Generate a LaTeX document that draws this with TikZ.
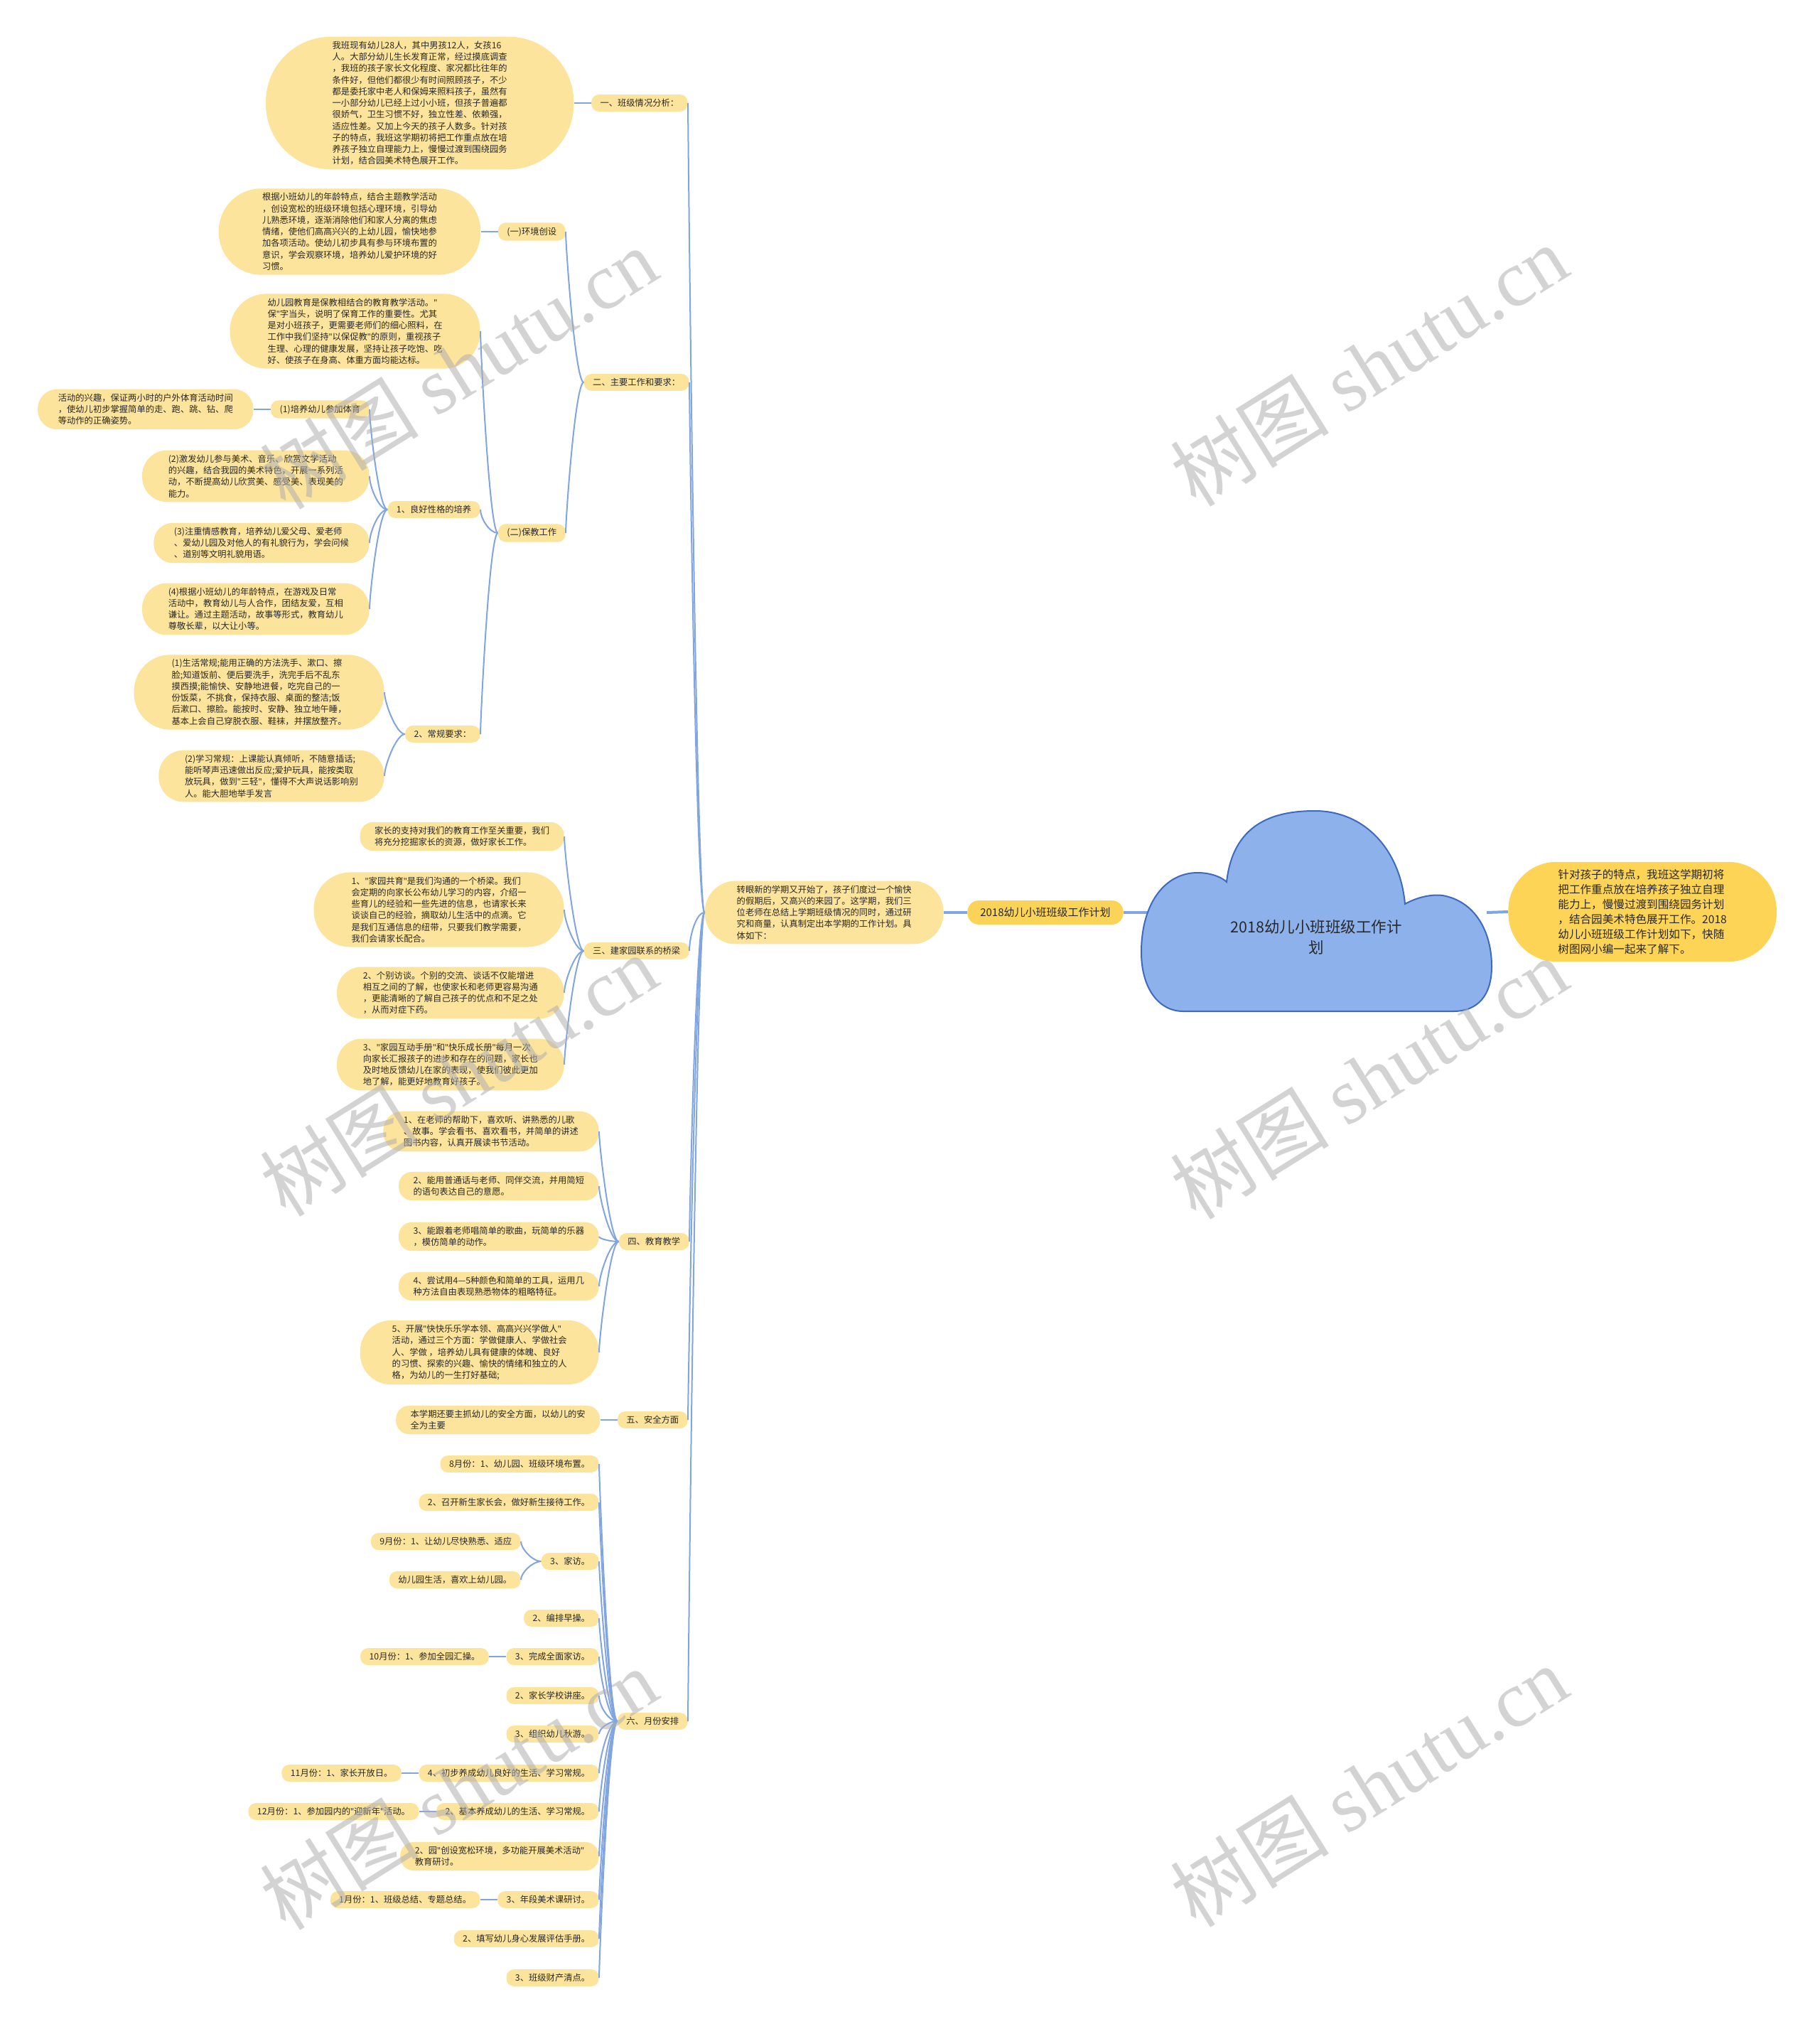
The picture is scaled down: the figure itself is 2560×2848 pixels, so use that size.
\documentclass[tikz,border=0pt]{standalone}
\usepackage{fontspec}
\setmainfont{Noto Sans CJK SC}
\newfontfamily\wmserif{Liberation Serif}
\newfontfamily\latinf{Noto Sans}
\newcommand\dq{{\latinf"}}
\usetikzlibrary{positioning}
\definecolor{leafc}{RGB}{253,228,156}
\definecolor{topc}{RGB}{250,211,88}
\definecolor{rnodec}{RGB}{253,212,86}
\definecolor{linec}{RGB}{128,165,224}
\definecolor{cloudf}{RGB}{141,178,235}
\definecolor{clouds}{RGB}{62,106,190}
\definecolor{txtc}{RGB}{40,40,40}
\definecolor{wmc}{RGB}{175,175,175}
\newcommand\fsA{\fontsize{6.15pt}{8.125pt}\selectfont}
\newcommand\fsB{\fontsize{7.5pt}{9pt}\selectfont}
\newcommand\fsC{\fontsize{7.8pt}{10.5pt}\selectfont}
\newcommand\fsD{\fontsize{10.75pt}{14.5pt}\selectfont}
\newcommand\fsW{\fontsize{56pt}{60pt}\selectfont}
\newcommand\cu[3][20]{\draw[conn] (#2.west) .. controls +(-12,0) and +(0,#1) .. (#3.east);}
\newcommand\cd[3][20]{\draw[conn] (#2.west) .. controls +(-12,0) and +(0,-#1) .. (#3.east);}
\newcommand\cs[2]{\draw[conn] (#1.west) -- (#2.east);}
\tikzset{
  nl/.code={\pgfmathsetmacro\myhr{((#1)-1)*4.0625+6.2}\pgfmathsetmacro\myhrr{\myhr-0.9}%
    \tikzset{rounded corners=\myhrr pt, inner xsep=\myhr pt}},
}
\begin{document}
\begin{tikzpicture}[x=0.5pt,y=-0.5pt,
  leaf/.style={rectangle, fill=leafc, text=txtc, inner ysep=3.1pt, font=\fsA, align=left, nl=1},
  topic/.style={rectangle, fill=topc, text=txtc, rounded corners=8pt, inner xsep=9pt, inner ysep=5pt, font=\fsB, align=left},
  rnode/.style={rectangle, fill=rnodec, text=txtc, rounded corners=34pt, inner xsep=35pt, inner ysep=5.2pt, font=\fsC, align=left},
  conn/.style={draw=linec, line width=1pt},
  rootline/.style={draw=linec, line width=2pt},
  wm/.style={font=\fsW, text=wmc, text opacity=0.55, rotate=32, inner sep=0pt},
  node distance=12pt]
\useasboundingbox (0,0) rectangle (2560,2848);
\fill[white] (0,0) rectangle (2560,2848);

% ---- right side ----
\node[rnode, anchor=west] (rnode) at (2122,1283) {针对孩子的特点，我班这学期初将\\把工作重点放在培养孩子独立自理\\能力上，慢慢过渡到围绕园务计划\\，结合园美术特色展开工作。2018\\幼儿小班班级工作计划如下，快随\\树图网小编一起来了解下。};
\node[topic, anchor=east] (main) at (1581,1284) {2018幼儿小班班级工作计划};
\node[leaf, nl=5, anchor=east] (intro) at (1328,1284) {转眼新的学期又开始了，孩子们度过一个愉快\\的假期后，又高兴的来园了。这学期，我们三\\位老师在总结上学期班级情况的同时，通过研\\究和商量，认真制定出本学期的工作计划。具\\体如下：};
\coordinate (cloudW) at (1622,1284);
\coordinate (cloudE) at (2092,1284);

% ---- 一 ----
\node[leaf, anchor=east] (h1) at (968,145) {一、班级情况分析：};
\node[leaf, nl=11, left=of h1] (t1) {我班现有幼儿28人，其中男孩12人，女孩16\\人。大部分幼儿生长发育正常，经过摸底调查\\，我班的孩子家长文化程度、家况都比往年的\\条件好，但他们都很少有时间照顾孩子，不少\\都是委托家中老人和保姆来照料孩子，虽然有\\一小部分幼儿已经上过小小班，但孩子普遍都\\很娇气，卫生习惯不好，独立性差、依赖强，\\适应性差。又加上今天的孩子人数多。针对孩\\子的特点，我班这学期初将把工作重点放在培\\养孩子独立自理能力上，慢慢过渡到围绕园务\\计划，结合园美术特色展开工作。};

% ---- 二 ----
\node[leaf, anchor=east] (h2) at (970,538) {二、主要工作和要求：};
\node[leaf, anchor=east] (env) at (796,326) {(一)环境创设};
\node[leaf, nl=7, left=of env] (envt) {根据小班幼儿的年龄特点，结合主题教学活动\\，创设宽松的班级环境包括心理环境，引导幼\\儿熟悉环境，逐渐消除他们和家人分离的焦虑\\情绪，使他们高高兴兴的上幼儿园，愉快地参\\加各项活动。使幼儿初步具有参与环境布置的\\意识，学会观察环境，培养幼儿爱护环境的好\\习惯。};
\node[leaf, anchor=east] (bj) at (796,750) {(二)保教工作};
\node[leaf, nl=6, anchor=east] (bj1) at (676,466) {幼儿园教育是保教相结合的教育教学活动。\dq\\保\dq{}字当头，说明了保育工作的重要性。尤其\\是对小班孩子，更需要老师们的细心照料，在\\工作中我们坚持\dq{}以保促教\dq{}的原则，重视孩子\\生理、心理的健康发展，坚持让孩子吃饱、吃\\好、使孩子在身高、体重方面均能达标。};
\node[leaf, anchor=east] (lx1) at (676,717) {1、良好性格的培养};
\node[leaf, anchor=east] (lx2) at (676,1033) {2、常规要求：};
\node[leaf, anchor=east] (p1) at (520,576) {(1)培养幼儿参加体育};
\node[leaf, nl=3, left=of p1] (p1t) {活动的兴趣，保证两小时的户外体育活动时间\\，使幼儿初步掌握简单的走、跑、跳、钻、爬\\等动作的正确姿势。};
\node[leaf, nl=4, anchor=east] (p2) at (520,670) {(2)激发幼儿参与美术、音乐、欣赏文学活动\\的兴趣，结合我园的美术特色，开展一系列活\\动，不断提高幼儿欣赏美、感受美、表现美的\\能力。};
\node[leaf, nl=3, anchor=east] (p3) at (520,764) {(3)注重情感教育，培养幼儿爱父母、爱老师\\、爱幼儿园及对他人的有礼貌行为，学会问候\\、道别等文明礼貌用语。};
\node[leaf, nl=4, anchor=east] (p4) at (520,857) {(4)根据小班幼儿的年龄特点，在游戏及日常\\活动中，教育幼儿与人合作，团结友爱，互相\\谦让。通过主题活动，故事等形式，教育幼儿\\尊敬长辈，以大让小等。};
\node[leaf, nl=6, anchor=east] (r1) at (541,974) {(1)生活常规;能用正确的方法洗手、漱口、擦\\脸;知道饭前、便后要洗手，洗完手后不乱东\\摸西摸;能愉快、安静地进餐，吃完自己的一\\份饭菜，不挑食，保持衣服、桌面的整洁;饭\\后漱口、擦脸。能按时、安静、独立地午睡，\\基本上会自己穿脱衣服、鞋袜，并摆放整齐。};
\node[leaf, nl=4, anchor=east] (r2) at (541,1092) {(2)学习常规：上课能认真倾听，不随意插话;\\能听琴声迅速做出反应;爱护玩具，能按类取\\放玩具，做到\dq{}三轻\dq{}，懂得不大声说话影响别\\人。能大胆地举手发言};

% ---- 三 ----
\node[leaf, anchor=east] (h3) at (970,1338) {三、建家园联系的桥梁};
\node[leaf, nl=2, anchor=east] (j0) at (794,1177) {家长的支持对我们的教育工作至关重要，我们\\将充分挖掘家长的资源，做好家长工作。};
\node[leaf, nl=6, anchor=east] (j1) at (794,1280) {1、\dq{}家园共育\dq{}是我们沟通的一个桥梁。我们\\会定期的向家长公布幼儿学习的内容，介绍一\\些育儿的经验和一些先进的信息，也请家长来\\谈谈自己的经验，摘取幼儿生活中的点滴。它\\是我们互通信息的纽带，只要我们教学需要，\\我们会请家长配合。};
\node[leaf, nl=4, anchor=east] (j2) at (794,1397) {2、个别访谈。个别的交流、谈话不仅能增进\\相互之间的了解，也使家长和老师更容易沟通\\，更能清晰的了解自己孩子的优点和不足之处\\，从而对症下药。};
\node[leaf, nl=4, anchor=east] (j3) at (794,1498) {3、\dq{}家园互动手册\dq{}和\dq{}快乐成长册\dq{}每月一次\\向家长汇报孩子的进步和存在的问题，家长也\\及时地反馈幼儿在家的表现，使我们彼此更加\\地了解，能更好地教育好孩子。};

% ---- 四 ----
\node[leaf, anchor=east] (h4) at (970,1747) {四、教育教学};
\node[leaf, nl=3, anchor=east] (e1) at (843,1592) {1、在老师的帮助下，喜欢听、讲熟悉的儿歌\\、故事。学会看书、喜欢看书，并简单的讲述\\图书内容，认真开展读书节活动。};
\node[leaf, nl=2, anchor=east] (e2) at (843,1669) {2、能用普通话与老师、同伴交流，并用简短\\的语句表达自己的意愿。};
\node[leaf, nl=2, anchor=east] (e3) at (843,1740) {3、能跟着老师唱简单的歌曲，玩简单的乐器\\，模仿简单的动作。};
\node[leaf, nl=2, anchor=east] (e4) at (843,1810) {4、尝试用4—5种颜色和简单的工具，运用几\\种方法自由表现熟悉物体的粗略特征。};
\node[leaf, nl=5, anchor=east] (e5) at (843,1903) {5、开展\dq{}快快乐乐学本领、高高兴兴学做人\dq\\活动，通过三个方面：学做健康人、学做社会\\人、学做 ，培养幼儿具有健康的体魄、良好\\的习惯、探索的兴趣、愉快的情绪和独立的人\\格，为幼儿的一生打好基础;};

% ---- 五 ----
\node[leaf, anchor=east] (h5) at (968,1998) {五、安全方面};
\node[leaf, nl=2, left=of h5] (s1) {本学期还要主抓幼儿的安全方面，以幼儿的安\\全为主要};

% ---- 六 ----
\node[leaf, anchor=east] (h6) at (968,2422) {六、月份安排};
\node[leaf, anchor=east] (m1) at (843,2060) {8月份：1、幼儿园、班级环境布置。};
\node[leaf, anchor=east] (m2) at (843,2114) {2、召开新生家长会，做好新生接待工作。};
\node[leaf, anchor=east] (m3) at (843,2197) {3、家访。};
\node[leaf, anchor=east] (m3a) at (733,2169) {9月份：1、让幼儿尽快熟悉、适应};
\node[leaf, anchor=east] (m3b) at (733,2223) {幼儿园生活，喜欢上幼儿园。};
\node[leaf, anchor=east] (m4) at (843,2277) {2、编排早操。};
\node[leaf, anchor=east] (m5) at (843,2331) {3、完成全面家访。};
\node[leaf, left=of m5] (m5a) {10月份：1、参加全园汇操。};
\node[leaf, anchor=east] (m6) at (843,2386) {2、家长学校讲座。};
\node[leaf, anchor=east] (m7) at (843,2440) {3、组织幼儿秋游。};
\node[leaf, anchor=east] (m8) at (843,2495) {4、初步养成幼儿良好的生活、学习常规。};
\node[leaf, left=of m8] (m8a) {11月份：1、家长开放日。};
\node[leaf, anchor=east] (m9) at (843,2549) {2、基本养成幼儿的生活、学习常规。};
\node[leaf, left=of m9] (m9a) {12月份：1、参加园内的\dq{}迎新年\dq{}活动。};
\node[leaf, nl=2, anchor=east] (m10) at (843,2612) {2、园\dq{}创设宽松环境，多功能开展美术活动\dq\\教育研讨。};
\node[leaf, anchor=east] (m11) at (843,2673) {3、年段美术课研讨。};
\node[leaf, left=of m11] (m11a) {1月份：1、班级总结、专题总结。};
\node[leaf, anchor=east] (m12) at (843,2728) {2、填写幼儿身心发展评估手册。};
\node[leaf, anchor=east] (m13) at (843,2783) {3、班级财产清点。};

% ---- connectors ----
\draw[rootline] (cloudE) -- (rnode.west);
\draw[rootline] (cloudW) -- (main.east);
\draw[rootline] (main.west) -- (intro.east);
\cu[25]{intro}{h1}
\cu[25]{intro}{h2}
\cd[20]{intro}{h3}
\cd[25]{intro}{h4}
\cd[25]{intro}{h5}
\cd[25]{intro}{h6}
\cs{h1}{t1}
\cu[20]{h2}{env}
\cd[20]{h2}{bj}
\cs{env}{envt}
\cu[20]{bj}{bj1}
\cu[12]{bj}{lx1}
\cd[20]{bj}{lx2}
\cu[20]{lx1}{p1}
\cu[15]{lx1}{p2}
\cd[15]{lx1}{p3}
\cd[20]{lx1}{p4}
\cs{p1}{p1t}
\cu[15]{lx2}{r1}
\cd[15]{lx2}{r2}
\cu[20]{h3}{j0}
\cu[15]{h3}{j1}
\cd[15]{h3}{j2}
\cd[20]{h3}{j3}
\cu[20]{h4}{e1}
\cu[15]{h4}{e2}
\cu[3]{h4}{e3}
\cd[15]{h4}{e4}
\cd[20]{h4}{e5}
\cs{h5}{s1}
\cu[20]{h6}{m1}
\cu[20]{h6}{m2}
\cu[20]{h6}{m3}
\cu[20]{h6}{m4}
\cu[20]{h6}{m5}
\cu[15]{h6}{m6}
\cd[8]{h6}{m7}
\cd[20]{h6}{m8}
\cd[20]{h6}{m9}
\cd[20]{h6}{m10}
\cd[20]{h6}{m11}
\cd[20]{h6}{m12}
\cd[20]{h6}{m13}
\cu[10]{m3}{m3a}
\cd[10]{m3}{m3b}
\cs{m5}{m5a}
\cs{m8}{m8a}
\cs{m9}{m9a}
\cs{m11}{m11a}

% ---- cloud ----
\draw[fill=cloudf, draw=clouds, line width=1pt]
  (1726,1241) .. controls (1735,1160) and (1790,1141) .. (1850,1141)
  .. controls (1920,1141) and (1970,1195) .. (1977,1272)
  .. controls (1995,1262) and (2015,1258) .. (2030,1260)
  .. controls (2075,1268) and (2099,1310) .. (2099,1360)
  .. controls (2099,1400) and (2080,1423) .. (2045,1423)
  -- (1665,1423)
  .. controls (1630,1423) and (1606,1390) .. (1606,1340)
  .. controls (1606,1270) and (1640,1228) .. (1685,1228)
  .. controls (1705,1228) and (1720,1235) .. (1726,1241) -- cycle;
\node[font=\fsD, text=txtc, align=center] (root) at (1852,1319) {2018幼儿小班班级工作计\\划};

% ---- watermarks ----
\node[wm] (wm1) at (645,518) {树图 {\wmserif shutu.cn}};
\node[wm] (wm2) at (1926,514) {树图 {\wmserif shutu.cn}};
\node[wm] (wm3) at (645,1513) {树图 {\wmserif shutu.cn}};
\node[wm] (wm4) at (1926,1517) {树图 {\wmserif shutu.cn}};
\node[wm] (wm5) at (645,2517) {树图 {\wmserif shutu.cn}};
\node[wm] (wm6) at (1926,2513) {树图 {\wmserif shutu.cn}};
\end{tikzpicture}
\end{document}
